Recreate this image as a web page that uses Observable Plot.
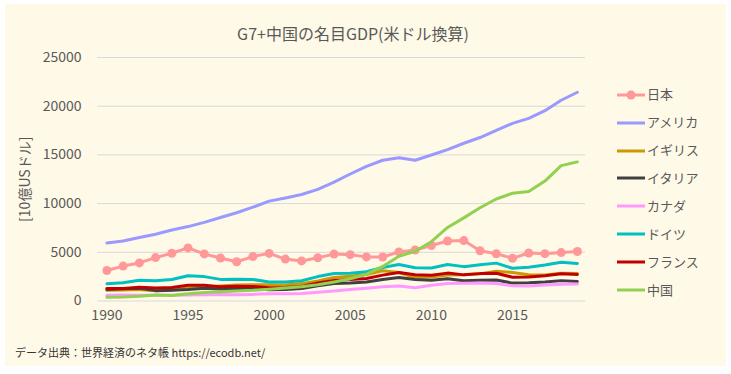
<!DOCTYPE html>
<html><head><meta charset="utf-8">
<script src="https://cdn.jsdelivr.net/npm/d3@7"></script>
<script src="https://cdn.jsdelivr.net/npm/@observablehq/plot@0.6"></script>
<style>
body{margin:0;background:#fff;font-family:"Noto Sans CJK JP","Noto Sans",sans-serif;}
#wrap{position:relative;width:731px;height:374px;overflow:hidden;}
#bg{position:absolute;left:5px;top:4px;width:721px;height:362px;background:#fff9e8;}
#chart{position:absolute;left:0;top:0;}
#title{position:absolute;left:153px;width:400px;top:21px;height:24px;line-height:24px;text-align:center;font-size:16px;color:#595959;}
#legend{position:absolute;left:617px;top:0;}
.lg{position:absolute;left:0;height:20px;line-height:20px;white-space:nowrap;font-size:13px;color:#595959;}
.lg svg{vertical-align:middle;position:relative;top:-1px;}
#caption{position:absolute;left:15px;top:342px;height:20px;line-height:20px;font-size:11px;color:#333;white-space:nowrap;}
</style>
</head><body>
<div id="wrap">
  <div id="bg"></div>
  <div id="chart"></div>
  <div id="title">G7+中国の名目GDP(米ドル換算)</div>
  <div id="legend"></div>
  <div id="caption">データ出典：世界経済のネタ帳 https://ecodb.net/</div>
</div>
<script>
const years = [1990,1991,1992,1993,1994,1995,1996,1997,1998,1999,2000,2001,2002,2003,2004,2005,2006,2007,2008,2009,2010,2011,2012,2013,2014,2015,2016,2017,2018,2019];
const japan   = [3133,3585,3909,4455,4907,5449,4833,4414,4033,4563,4888,4304,4115,4445,4815,4755,4530,4515,5038,5231,5700,6157,6203,5156,4850,4389,4927,4860,4971,5082];
const usa     = [5963,6158,6520,6859,7287,7640,8073,8578,9063,9631,10252,10582,10936,11458,12214,13037,13815,14452,14713,14449,14992,15543,16197,16785,17527,18238,18745,19543,20612,21433];
const uk      = [1093,1142,1179,1061,1140,1335,1409,1553,1638,1665,1658,1640,1785,2054,2422,2539,2713,3100,2923,2411,2475,2659,2704,2786,3064,2928,2694,2666,2861,2829];
const italy   = [1181,1245,1320,1065,1099,1174,1313,1241,1270,1253,1147,1170,1277,1574,1805,1858,1949,2213,2408,2199,2136,2294,2087,2141,2162,1836,1877,1961,2092,2011];
const canada  = [596,612,594,578,579,605,631,655,634,678,744,738,760,896,1026,1169,1315,1465,1550,1371,1614,1789,1824,1843,1803,1556,1528,1649,1718,1736];
const germany = [1772,1869,2131,2072,2206,2592,2504,2219,2245,2212,1953,1951,2080,2506,2815,2861,3002,3440,3753,3419,3397,3744,3528,3733,3889,3357,3469,3691,3977,3861];
const france  = [1272,1274,1403,1329,1394,1610,1615,1460,1510,1492,1362,1376,1494,1840,2115,2196,2319,2657,2918,2690,2643,2863,2683,2811,2852,2439,2472,2595,2790,2716];
const china   = [397,415,494,617,564,734,864,962,1029,1094,1211,1339,1471,1660,1955,2286,2752,3552,4598,5110,6087,7552,8532,9570,10476,11062,11233,12310,13895,14280];

const names  = ["日本","アメリカ","イギリス","イタリア","カナダ","ドイツ","フランス","中国"];
const series = [japan, usa, uk, italy, canada, germany, france, china];
const colors = ["#ff9999","#9999ff","#cc9900","#404040","#ff99ff","#00c0c0","#c00000","#92d050"];
const xTicks = [1990,1995,2000,2005,2010,2015];
const yTicks = [0,5000,10000,15000,20000,25000];
const markerSeries = "日本";

const tables = names.map((n, i) => years.map((y, j) => ({year: y, value: series[i][j], country: n})));

const marks = [Plot.ruleY(yTicks, {stroke: "#d9d9d9", strokeWidth: 1})];
tables.forEach((t, i) => {
  marks.push(Plot.line(t, {x: "year", y: "value", stroke: "country", strokeWidth: 3, strokeLinejoin: "round", strokeLinecap: "round"}));
  if (names[i] === markerSeries) marks.push(Plot.dot(t, {x: "year", y: "value", fill: "country", r: 4.5}));
});

const chart = Plot.plot({
  width: 731, height: 374,
  marginLeft: 97, marginRight: 146, marginTop: 57, marginBottom: 73.5,
  style: {background: "transparent", fontFamily: '"Noto Sans CJK JP","Noto Sans",sans-serif', fontSize: "14px", color: "#595959", overflow: "visible"},
  x: {domain: [1989.42, 2019.5], ticks: xTicks, tickFormat: d => String(d), tickSize: 0, tickPadding: 9, label: null},
  y: {domain: [0, 25000], ticks: yTicks, tickFormat: d => String(d), tickSize: 0, tickPadding: 16, label: "[10億USドル]", labelAnchor: "center", labelOffset: 77, labelArrow: "none"},
  color: {domain: names, range: colors},
  marks
});
document.getElementById("chart").appendChild(chart);

const legend = document.getElementById("legend");
names.forEach((n, i) => {
  const row = document.createElement("div");
  row.className = "lg";
  row.style.top = (94.3 + i * 27.9 - 10) + "px";
  const dot = n === markerSeries ? `<circle cx="14" cy="6" r="4.5" fill="${colors[i]}"/>` : "";
  row.innerHTML = `<svg width="30" height="12"><line x1="0" x2="28" y1="6" y2="6" stroke="${colors[i]}" stroke-width="3"/>${dot}</svg><span>${n}</span>`;
  legend.appendChild(row);
});
</script>
</body></html>
